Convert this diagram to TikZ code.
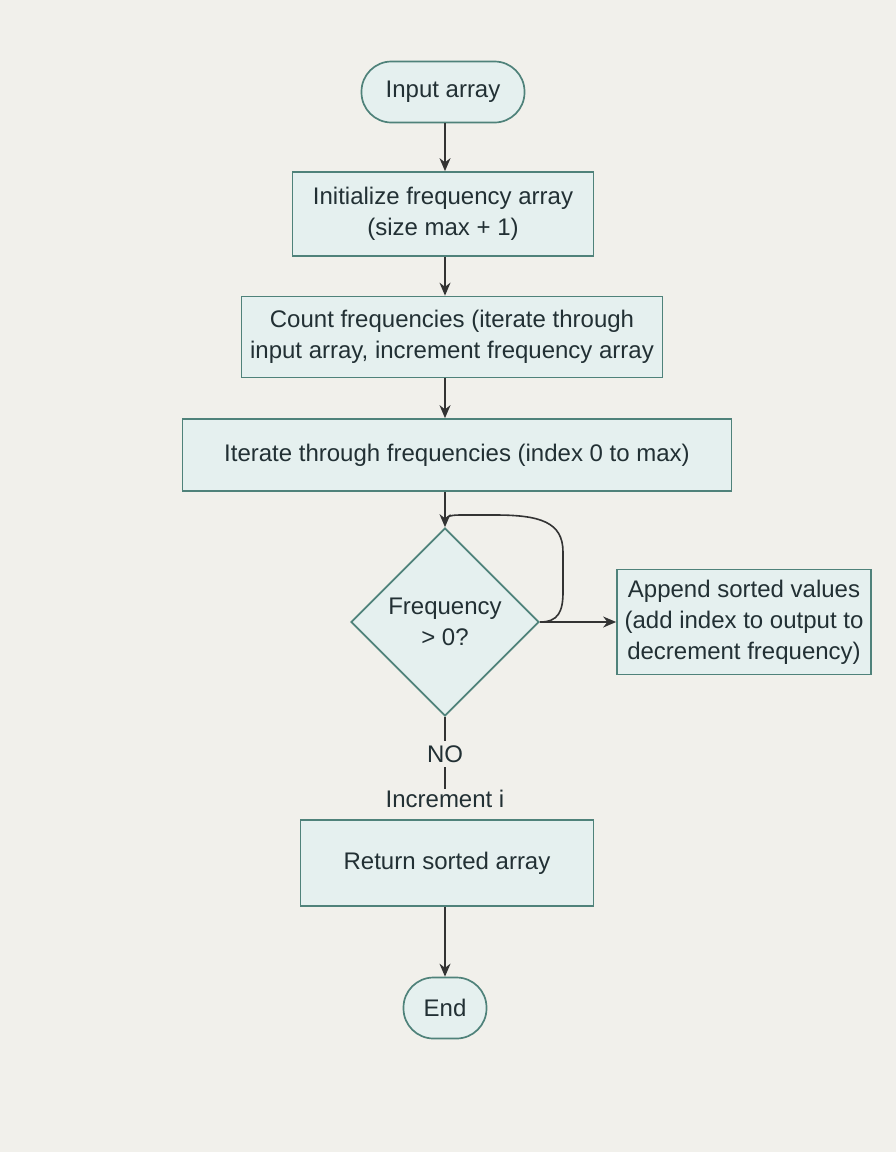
\documentclass[tikz,border=0pt]{standalone}
\usepackage{fontspec}
\setmainfont{Liberation Sans}
\usetikzlibrary{shapes.geometric,arrows.meta}
\definecolor{bg}{HTML}{F1F0EB}
\definecolor{boxfill}{HTML}{E5F0EF}
\definecolor{boxline}{HTML}{4F827A}
\definecolor{txt}{HTML}{223034}
\definecolor{arr}{HTML}{333333}
\tikzset{
  base/.style={draw=boxline, fill=boxfill, line width=1.7pt, text=txt, align=center,
    font=\fontsize{24}{31}\selectfont},
  term/.style={base, rounded corners=30pt, inner sep=0pt},
  proc/.style={base, rectangle, inner sep=0pt},
  dec/.style={base, diamond, inner sep=0pt, minimum width=188pt, minimum height=188pt},
  lbl/.style={text=txt, font=\fontsize{24}{31}\selectfont, inner sep=0pt},
  conn/.style={draw=arr, line width=1.6pt, -{Stealth[length=13pt,width=11pt]}},
  plain/.style={draw=arr, line width=1.6pt}
}
\begin{document}
\begin{tikzpicture}[x=1pt,y=-1pt]
\path[use as bounding box, fill=bg] (0,0) rectangle (896,1152);
\node[term, minimum width=163pt, minimum height=61pt] (inp) at (443,92) {Input array};
\node[proc, minimum width=301pt, minimum height=84pt] (init) at (443,214) {Initialize frequency array\\(size max + 1)};
\node[proc, minimum width=421pt, minimum height=81pt] (count) at (452,337) {Count frequencies (iterate through\\input array, increment frequency array};
\node[proc, minimum width=549pt, minimum height=72pt] (iter) at (457,455) {Iterate through frequencies (index 0 to max)};
\node[dec] (dia) at (445,622) {Frequency\\> 0?};
\node[proc, minimum width=254pt, minimum height=105pt] (app) at (744,622) {Append sorted values\\(add index to output to\\decrement frequency)};
\node[lbl, minimum height=26pt] (no) at (445,754) {NO};
\node[lbl, minimum height=20pt] (inc) at (445,799) {Increment i};
\node[proc, minimum width=293pt, minimum height=86pt] (ret) at (447,863) {Return sorted array};
\node[term, minimum width=83pt, minimum height=61pt] (end) at (445,1008) {End};
\coordinate (join) at (445,522);

\draw[conn] (inp.south -| 445,0) -- (init.north -| 445,0);
\draw[conn] (init.south -| 445,0) -- (count.north -| 445,0);
\draw[conn] (count.south -| 445,0) -- (iter.north -| 445,0);
\draw[conn] (iter.south -| 445,0) -- (dia.north);
\draw[plain] (dia.east) .. controls (558,622) and (563,612) .. (563,592) -- (563,552)
  .. controls (563,522) and (540,515) .. (495,515) -- (460,515)
  .. controls (449,515) and (445,517) .. (join);
\draw[conn] (dia.east) -- (app.west);
\draw[plain] (dia.south) -- (no.north);
\draw[plain] (no.south) -- (inc.north);
\draw[conn] (ret.south -| 445,0) -- (end.north);
\end{tikzpicture}
\end{document}
